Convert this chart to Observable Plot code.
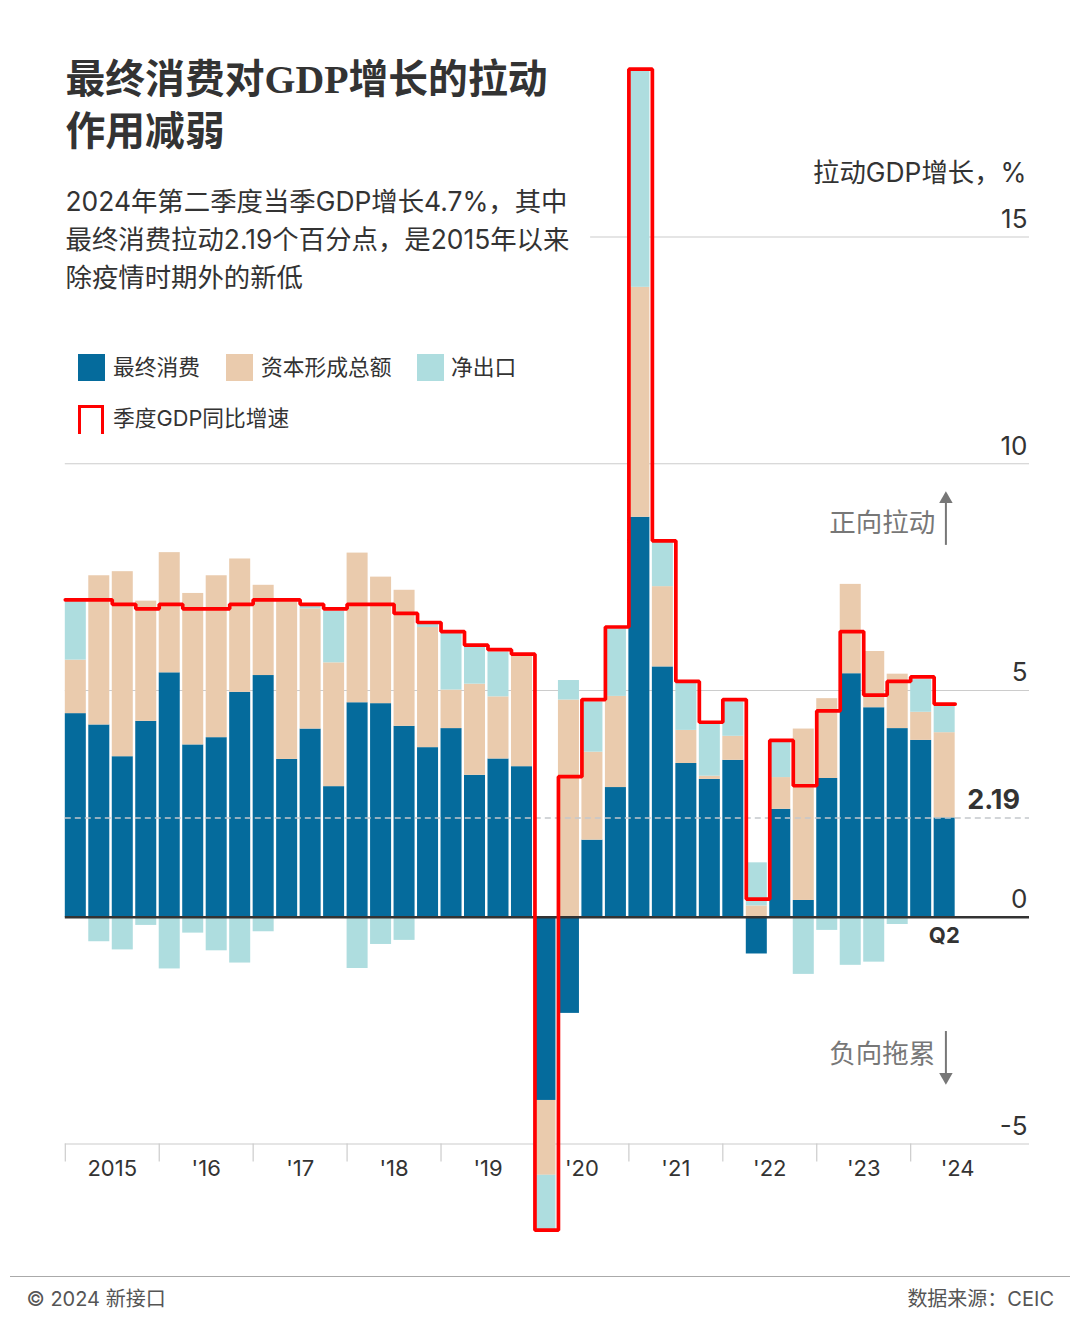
<!DOCTYPE html>
<html lang="zh">
<head>
<meta charset="utf-8">
<script src="https://cdn.jsdelivr.net/npm/d3@7"></script>
<script src="https://cdn.jsdelivr.net/npm/@observablehq/plot@0.6"></script>
<style>
  html, body { margin: 0; padding: 0; background: #fff; }
  #page { position: relative; width: 1080px; height: 1324px; overflow: hidden; color: #333;
          font-family: Inter, "Noto Sans CJK SC", sans-serif; }
  #page svg { display: block; position: absolute; left: 0; top: 0; }
  .t { position: absolute; white-space: nowrap; }
  #title { left: 65.5px; top: 53.5px; font: 700 39.8px/52px "Liberation Serif", "Noto Sans CJK SC", serif; color: #333; }
  #sub { left: 65.5px; top: 181.5px; font-size: 26.4px; line-height: 38px; color: #333; }
  .lg { font-size: 21.75px; line-height: 26px; color: #333; }
  .sw { position: absolute; width: 26.5px; height: 26.5px; }
  #rule { position: absolute; left: 10px; width: 1060px; top: 1276px; height: 1px; background: #aaa; }
  .foot { font-size: 20px; line-height: 24px; color: #555; top: 1286.5px; }
</style>
</head>
<body>
<div id="page">
  <div id="chart"></div>
  <div class="t" id="title">最终消费对GDP增长的拉动<br>作用减弱</div>
  <div class="t" id="sub">2024年第二季度当季GDP增长4.7%，其中<br>最终消费拉动2.19个百分点，是2015年以来<br>除疫情时期外的新低</div>

  <div class="sw" style="left:78px;top:354px;background:#056b9c"></div>
  <div class="t lg" style="left:113px;top:354px">最终消费</div>
  <div class="sw" style="left:226px;top:354px;background:#eacbad"></div>
  <div class="t lg" style="left:261px;top:354px">资本形成总额</div>
  <div class="sw" style="left:417px;top:354px;background:#aedddf"></div>
  <div class="t lg" style="left:451px;top:354px">净出口</div>
  <div class="sw" style="left:78px;top:405px;width:20px;height:26px;border:3.5px solid #f00;border-bottom:0"></div>
  <div class="t lg" style="left:113px;top:405px">季度GDP同比增速</div>

  <div id="rule"></div>
  <div class="t foot" style="left:26.5px">© 2024 新接口</div>
  <div class="t foot" style="right:26px">数据来源：CEIC</div>
</div>
<script>
const consumption = [4.49,4.24,3.54,4.32, 5.39,3.80,3.96,4.96, 5.33,3.48,4.15,2.88, 4.73,4.71,4.21,3.74, 4.16,3.13,3.49,3.32,
  -4.04,-2.12,1.70,2.86, 8.82,5.52,3.39,3.04, 3.46,-0.81,2.38,0.37, 3.06,5.37,4.62,4.16, 3.90,2.19];
const capital = [1.18,3.29,4.08,2.65, 2.65,3.34,3.57,2.94, 1.99,3.48,2.65,2.73, 3.30,2.79,3.00,2.65, 0.85,2.01,1.37,2.46,
  -1.65,4.79,1.94,2.01, 5.07,1.77,0.73,0.07, 0.53,0.25,0.70,3.78, 1.76,1.97,1.24,1.20, 0.62,1.88];
const netExports = [1.29,-0.54,-0.72,-0.18, -1.14,-0.35,-0.74,-1.01, -0.32,0.02,0.07,1.14, -1.13,-0.60,-0.51,0.08, 1.25,0.82,0.99,0.02,
  -1.21,0.43,1.11,1.49, 4.78,1.02,1.04,1.14, 0.76,0.95,0.78,-1.26, -0.29,-1.06,-0.99,-0.16, 0.72,0.60];
const gdpGrowth = [7.0,7.0,6.9,6.8, 6.9,6.8,6.8,6.9, 7.0,7.0,6.9,6.8, 6.9,6.9,6.7,6.5, 6.3,6.0,5.9,5.8,
  -6.9,3.1,4.8,6.4, 18.7,8.3,5.2,4.3, 4.8,0.4,3.9,2.9, 4.55,6.3,4.9,5.2, 5.3,4.7];
const seriesNames = ["最终消费","资本形成总额","净出口"];
const seriesColors = ["#056b9c","#eacbad","#aedddf"];
const yearLabels = ["2015","'16","'17","'18","'19","'20","'21","'22","'23","'24"];
const yearStarts = [0,4,8,12,16,20,24,28,32,36];
const yTicks = [15,10,5,0,-5];
const gridValues = [15,10,5,-5];
const gridFrom = [22.37,0,0,0];
const latest = 2.19;
const xMax = 41.06;
const barWidth = 0.895;

const bars = [];
seriesNames.forEach((s, k) => {
  [consumption, capital, netExports][k].forEach((v, i) => bars.push({i, v, series: s}));
});
const gdpSteps = gdpGrowth.map((v, i) => ({i, v}));
gdpSteps.push({i: gdpGrowth.length - 1 + barWidth, v: gdpGrowth[gdpGrowth.length - 1]});
const grid = gridValues.map((y, k) => ({y, from: gridFrom[k]}));
const yearRows = yearLabels.map((label, k) => ({label, mid: yearStarts[k] + 2}));
const notes = [
  {x: 37.05, y: 8.68, text: "正向拉动"},
  {x: 37.05, y: -3.03, text: "负向拖累"}
];
const arrows = [
  {x: 37.5, y1: 8.2, y2: 9.2, tip: 9.22, rot: 0},
  {x: 37.5, y1: -2.52, y2: -3.5, tip: -3.52, rot: 180}
];

const fontStack = 'Inter, "Noto Sans CJK SC", sans-serif';
const chart = Plot.plot({
  width: 1080,
  height: 1324,
  marginLeft: 64.8,
  marginRight: 51,
  marginTop: 236.5,
  marginBottom: 180.5,
  style: {background: "transparent", fontFamily: fontStack, overflow: "visible"},
  x: {type: "linear", domain: [0, xMax], axis: null},
  y: {type: "linear", domain: [-5, 15], axis: null},
  color: {domain: seriesNames, range: seriesColors},
  marks: [
    Plot.ruleY(grid, {y: "y", x1: "from", x2: xMax, stroke: "#ccc", strokeWidth: 1.2}),
    Plot.axisX({anchor: "bottom", ticks: yearStarts, tickSize: 18, tickFormat: () => "", stroke: "#ccc", strokeWidth: 1.2, label: null}),
    Plot.rectY(bars, {x: "i", interval: 1, y: "v", fill: "series", insetRight: 2.47}),
    Plot.ruleY([latest], {x1: 0, x2: xMax, stroke: "#c4c8cc", strokeWidth: 1.5, strokeDasharray: "6 4"}),
    Plot.ruleY([0], {x1: 0, x2: xMax, stroke: "#333", strokeWidth: 2.5}),
    Plot.line(gdpSteps, {x: "i", y: "v", curve: "step-after", stroke: "#f00", strokeWidth: 3.7, strokeLinejoin: "miter"}),
    Plot.text(yTicks, {y: d => d, text: d => String(d), frameAnchor: "right", textAnchor: "end", dx: -2, dy: -17.5, fontSize: 26, fill: "#333"}),
    Plot.text(yearRows, {x: "mid", y: -5, text: "label", dy: 25, fontSize: 22, fill: "#333"}),
    Plot.text(["拉动GDP增长，%"], {y: 15, text: d => d, frameAnchor: "right", textAnchor: "end", dx: -3, dy: -63.5, fontSize: 26.4, fill: "#333"}),
    Plot.text([latest], {y: latest, text: d => d.toFixed(2), frameAnchor: "right", textAnchor: "end", dx: -9.5, dy: -18, fontSize: 27, fontWeight: 700, fill: "#333"}),
    Plot.text(["Q2"], {x: 37.43, y: 0, text: d => d, dy: 19, fontSize: 22, fontWeight: 700, fill: "#333"}),
    Plot.text(notes, {x: "x", y: "y", text: "text", textAnchor: "end", fontSize: 26.5, fill: "#777"}),
    Plot.ruleX(arrows, {x: "x", y1: "y1", y2: "y2", stroke: "#777", strokeWidth: 2}),
    Plot.dot(arrows, {x: "x", y: "tip", symbol: "triangle", r: 5, rotate: "rot", fill: "#777", stroke: "none"})
  ]
});
document.getElementById("chart").appendChild(chart);
</script>
</body>
</html>
